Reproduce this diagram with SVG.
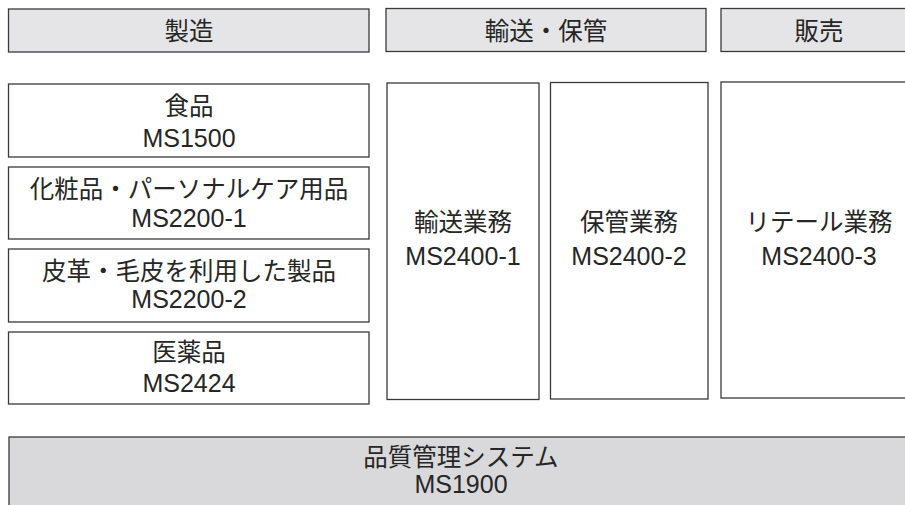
<svg xmlns="http://www.w3.org/2000/svg" width="905" height="505" viewBox="0 0 905 505">
<style>
  .hdr { fill: #e5e5e7; stroke: #3a3a3a; stroke-width: 1.3; }
  .box { fill: #ffffff; stroke: #3a3a3a; stroke-width: 1.3; }
  .base { fill: #d9d9db; stroke: #3a3a3a; stroke-width: 1.3; }
  text { font-family: "Liberation Sans", "Noto Sans CJK JP", sans-serif; font-size: 24.5px; fill: #262626; text-anchor: middle; }
  text.ms { font-size: 25px; }
</style>
<rect width="905" height="505" fill="#ffffff"/>
<g id="header-manufacturing">
  <rect class="hdr" x="8.5" y="9" width="360.5" height="43"/>
  <text x="189" y="40">製造</text>
</g>
<g id="header-transport">
  <rect class="hdr" x="386" y="8.5" width="320" height="43"/>
  <text x="546" y="39.5">輸送・保管</text>
</g>
<g id="header-sales">
  <rect class="hdr" x="721" y="8.5" width="200" height="43"/>
  <text x="819" y="39.5">販売</text>
</g>
<g id="food">
  <rect class="box" x="8.5" y="84" width="360.5" height="73"/>
  <text x="189" y="115">食品</text>
  <text class="ms" x="189" y="147">MS1500</text>
</g>
<g id="cosmetics">
  <rect class="box" x="8.5" y="167" width="360.5" height="72"/>
  <text x="189" y="198">化粧品・パーソナルケア用品</text>
  <text class="ms" x="189" y="227">MS2200-1</text>
</g>
<g id="leather">
  <rect class="box" x="8.5" y="249" width="360.5" height="73"/>
  <text x="189" y="280">皮革・毛皮を利用した製品</text>
  <text class="ms" x="189" y="308">MS2200-2</text>
</g>
<g id="pharma">
  <rect class="box" x="8.5" y="332" width="360.5" height="72"/>
  <text x="189" y="361">医薬品</text>
  <text class="ms" x="189" y="392">MS2424</text>
</g>
<g id="transport">
  <rect class="box" x="387" y="83" width="152" height="316.5"/>
  <text x="463" y="231">輸送業務</text>
  <text class="ms" x="463" y="265">MS2400-1</text>
</g>
<g id="storage">
  <rect class="box" x="550.5" y="82.5" width="157.5" height="316.5"/>
  <text x="629" y="231">保管業務</text>
  <text class="ms" x="629" y="265">MS2400-2</text>
</g>
<g id="retail">
  <rect class="box" x="721" y="82" width="200" height="316"/>
  <text x="819" y="231">リテール業務</text>
  <text class="ms" x="819" y="265">MS2400-3</text>
</g>
<g id="qms">
  <rect class="base" x="9" y="437" width="905" height="80"/>
  <text x="461" y="466">品質管理システム</text>
  <text class="ms" x="461" y="493">MS1900</text>
</g>
<g id="connectors"></g>
</svg>
